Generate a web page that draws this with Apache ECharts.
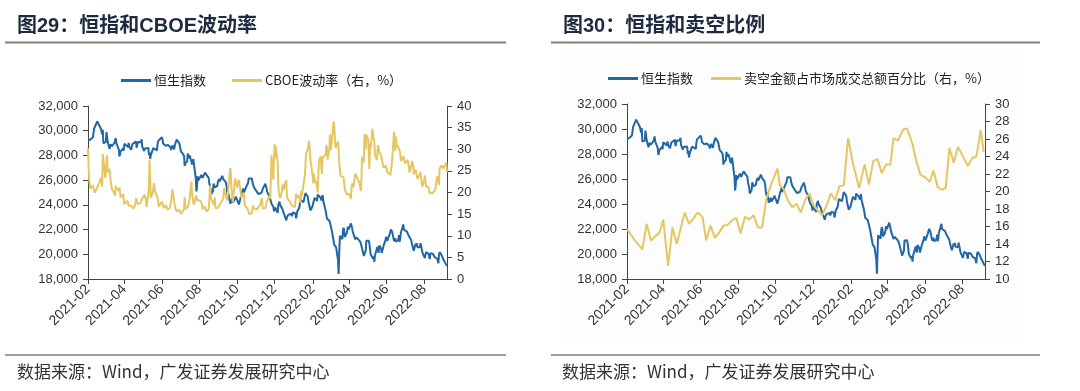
<!DOCTYPE html>
<html><head><meta charset="utf-8">
<script src="https://cdn.jsdelivr.net/npm/echarts@6/dist/echarts.min.js"></script>
<style>html,body{margin:0;padding:0;background:#fff;}#c{width:1080px;height:391px;}</style>
</head><body><div id="c"></div>
<script>
// ---- data ----
const xTickLabels = ['2021-02','2021-04','2021-06','2021-08','2021-10','2021-12','2022-02','2022-04','2022-06','2022-08'];
const xMin = '2021-02-01', xMax = '2022-09-07';
const leftTicks = [18000,20000,22000,24000,26000,28000,30000,32000];
const vixTicks = [0,5,10,15,20,25,30,35,40];
const ssTicks = [10,12,14,16,18,20,22,24,26,28,30];
const names = {hsi:'恒生指数', vix:'CBOE波动率（右，%）', ss:'卖空金额占市场成交总额百分比（右，%）'};
const titles = ['图29：恒指和CBOE波动率','图30：恒指和卖空比例'];
const sourceText = '数据来源：Wind，广发证券发展研究中心';

const hsiData = [
['2021-02-01',29200],['2021-02-03',29307],['2021-02-05',29289],['2021-02-09',29477],['2021-02-11',30173],['2021-02-16',30746],['2021-02-18',30595],['2021-02-19',30644],['2021-02-22',30156],['2021-02-24',29718],['2021-02-25',30074],['2021-02-26',28980],
['2021-03-02',29095],['2021-03-03',29880],['2021-03-05',29098],['2021-03-08',28540],['2021-03-10',28908],['2021-03-12',28739],['2021-03-16',29027],['2021-03-18',29405],['2021-03-19',28990],['2021-03-22',28885],['2021-03-23',28497],['2021-03-24',27918],['2021-03-25',27899],['2021-03-26',28336],['2021-03-30',28577],['2021-03-31',28378],
['2021-04-01',28939],['2021-04-07',28674],['2021-04-08',29009],['2021-04-09',28698],['2021-04-12',28454],['2021-04-14',28900],['2021-04-16',28969],['2021-04-20',29135],['2021-04-21',28622],['2021-04-23',29078],['2021-04-26',28952],['2021-04-28',29071],['2021-04-29',29303],['2021-04-30',28724],
['2021-05-03',28357],['2021-05-04',28557],['2021-05-06',28637],['2021-05-10',28595],['2021-05-11',28014],['2021-05-12',28231],['2021-05-13',27718],['2021-05-14',28027],['2021-05-18',28594],['2021-05-20',28450],['2021-05-24',28412],['2021-05-25',28910],['2021-05-26',29166],['2021-05-28',29124],['2021-06-01',29468],['2021-06-02',29297],['2021-06-03',28966],
['2021-06-07',28787],['2021-06-09',28740],['2021-06-11',28842],['2021-06-15',28638],['2021-06-16',28436],['2021-06-18',28801],['2021-06-21',28490],['2021-06-22',28818],['2021-06-24',28882],['2021-06-25',29288],['2021-06-28',29268],['2021-06-29',28994],['2021-06-30',28828],
['2021-07-02',28310],['2021-07-05',28143],['2021-07-07',27960],['2021-07-08',27154],['2021-07-09',27344],['2021-07-12',27515],['2021-07-13',28172],['2021-07-14',27787],['2021-07-16',28004],['2021-07-19',27489],['2021-07-20',27259],['2021-07-21',27224],['2021-07-22',27705],['2021-07-23',27321],['2021-07-26',26192],['2021-07-27',25086],['2021-07-28',25473],['2021-07-29',26316],['2021-07-30',25961],
['2021-08-02',26235],['2021-08-04',26426],['2021-08-06',26179],['2021-08-10',26605],['2021-08-11',26660],['2021-08-13',26391],['2021-08-16',26181],['2021-08-17',25745],['2021-08-18',25867],['2021-08-19',25317],['2021-08-20',24849],['2021-08-23',25110],['2021-08-24',25727],['2021-08-26',25416],['2021-08-30',25539],['2021-08-31',25879],
['2021-09-02',26091],['2021-09-03',25901],['2021-09-07',26353],['2021-09-09',26068],['2021-09-10',26205],['2021-09-13',25813],['2021-09-14',25503],['2021-09-15',25033],['2021-09-16',24668],['2021-09-17',24920],['2021-09-20',24099],['2021-09-23',24510],['2021-09-24',24192],['2021-09-28',24500],['2021-09-29',24663],['2021-09-30',24576],
['2021-10-04',24036],['2021-10-06',24422],['2021-10-08',24838],['2021-10-11',25325],['2021-10-12',24962],['2021-10-15',25331],['2021-10-18',25410],['2021-10-19',25787],['2021-10-20',26136],['2021-10-21',26017],['2021-10-25',26132],['2021-10-27',25628],['2021-10-29',25377],
['2021-11-01',25154],['2021-11-03',25025],['2021-11-04',25225],['2021-11-05',24871],['2021-11-08',24763],['2021-11-10',24996],['2021-11-12',25328],['2021-11-15',25390],['2021-11-16',25713],['2021-11-17',25650],['2021-11-18',25320],['2021-11-19',25050],['2021-11-23',24652],['2021-11-25',24740],['2021-11-26',24080],['2021-11-29',23852],['2021-11-30',23475],
['2021-12-02',23789],['2021-12-06',23350],['2021-12-07',23983],['2021-12-09',24255],['2021-12-10',23996],['2021-12-13',23955],['2021-12-14',23636],['2021-12-15',23421],['2021-12-17',23193],['2021-12-20',22744],['2021-12-21',22971],['2021-12-23',23193],['2021-12-24',23224],['2021-12-28',23280],['2021-12-29',23086],['2021-12-31',23398],
['2022-01-04',23289],['2022-01-05',22907],['2022-01-07',23493],['2022-01-10',23746],['2022-01-12',24402],['2022-01-14',24383],['2022-01-17',24219],['2022-01-18',24113],['2022-01-20',24952],['2022-01-21',24966],['2022-01-24',24656],['2022-01-25',24244],['2022-01-27',23807],['2022-01-28',23550],['2022-01-31',23802],
['2022-02-04',24573],['2022-02-07',24580],['2022-02-08',24329],['2022-02-09',24830],['2022-02-10',24924],['2022-02-14',24556],['2022-02-15',24356],['2022-02-17',24793],['2022-02-18',24328],['2022-02-21',24170],['2022-02-22',23520],['2022-02-23',23660],['2022-02-24',22902],['2022-02-25',22767],['2022-02-28',22713],
['2022-03-01',22761],['2022-03-02',22344],['2022-03-03',22467],['2022-03-04',21906],['2022-03-07',21057],['2022-03-08',20766],['2022-03-09',20628],['2022-03-10',20890],['2022-03-11',20554],['2022-03-14',19532],['2022-03-15',18415],['2022-03-16',20087],['2022-03-17',21501],['2022-03-18',21412],['2022-03-21',21221],['2022-03-22',21889],['2022-03-23',22154],['2022-03-24',21946],['2022-03-25',21405],['2022-03-28',21684],['2022-03-29',21928],['2022-03-30',22232],['2022-03-31',21997],
['2022-04-01',22040],['2022-04-04',22502],['2022-04-06',22080],['2022-04-07',21808],['2022-04-08',21872],['2022-04-11',21208],['2022-04-12',21319],['2022-04-13',21374],['2022-04-14',21518],['2022-04-19',21027],['2022-04-20',20944],['2022-04-21',20683],['2022-04-22',20638],['2022-04-25',19870],['2022-04-26',19934],['2022-04-27',19947],['2022-04-28',20277],['2022-04-29',21089],
['2022-05-03',21101],['2022-05-04',20870],['2022-05-05',20794],['2022-05-06',20002],['2022-05-10',19634],['2022-05-11',19824],['2022-05-12',19380],['2022-05-13',19899],['2022-05-16',19950],['2022-05-17',20602],['2022-05-18',20644],['2022-05-19',20120],['2022-05-20',20717],['2022-05-23',20471],['2022-05-24',20112],['2022-05-25',20171],['2022-05-26',20116],['2022-05-27',20697],['2022-05-30',21124],['2022-05-31',21415],
['2022-06-01',21294],['2022-06-02',21082],['2022-06-06',21653],['2022-06-07',21532],['2022-06-08',22014],['2022-06-09',21869],['2022-06-10',21806],['2022-06-13',21068],['2022-06-14',21067],['2022-06-15',21308],['2022-06-16',21018],['2022-06-17',21075],['2022-06-20',21163],['2022-06-21',21559],['2022-06-22',21008],['2022-06-23',21274],['2022-06-24',21719],['2022-06-27',22230],['2022-06-28',22419],['2022-06-29',21997],['2022-06-30',21860],
['2022-07-04',21830],['2022-07-05',21854],['2022-07-06',21587],['2022-07-07',21644],['2022-07-08',21725],['2022-07-11',21125],['2022-07-12',20845],['2022-07-13',20797],['2022-07-14',20751],['2022-07-15',20297],['2022-07-18',20847],['2022-07-19',20661],['2022-07-20',20890],['2022-07-21',20575],['2022-07-22',20610],['2022-07-25',20563],['2022-07-26',20906],['2022-07-27',20671],['2022-07-28',20674],['2022-07-29',20157],
['2022-08-01',20166],['2022-08-02',19690],['2022-08-03',19768],['2022-08-04',20174],['2022-08-05',20202],['2022-08-08',20046],['2022-08-09',20003],['2022-08-10',19610],['2022-08-11',20082],['2022-08-12',20176],['2022-08-15',20041],['2022-08-16',20040],['2022-08-17',19922],['2022-08-18',19764],['2022-08-19',19773],['2022-08-22',19657],['2022-08-23',19504],['2022-08-24',19268],['2022-08-25',19969],['2022-08-26',20171],['2022-08-29',19950],['2022-08-30',20079],['2022-08-31',19954],
['2022-09-01',19597],['2022-09-02',19452],['2022-09-05',19225],['2022-09-06',19203],['2022-09-07',19044]
];

const vixData = [
['2021-02-01',30.24],['2021-02-02',25.56],['2021-02-03',22.91],['2021-02-04',21.77],['2021-02-05',20.87],['2021-02-09',21.63],['2021-02-11',21.25],['2021-02-12',19.97],['2021-02-17',21.5],['2021-02-19',22.05],['2021-02-22',23.45],['2021-02-24',21.34],['2021-02-25',28.89],['2021-02-26',27.95],
['2021-03-01',23.35],['2021-03-03',26.67],['2021-03-04',28.57],['2021-03-05',24.66],['2021-03-08',25.47],['2021-03-09',24.03],['2021-03-10',22.56],['2021-03-12',20.69],['2021-03-15',20.03],['2021-03-17',19.23],['2021-03-18',21.58],['2021-03-19',20.95],['2021-03-23',20.3],['2021-03-24',21.2],['2021-03-26',18.86],['2021-03-30',19.61],['2021-03-31',19.4],
['2021-04-01',17.33],['2021-04-06',18.12],['2021-04-08',16.95],['2021-04-12',16.91],['2021-04-14',16.99],['2021-04-16',16.25],['2021-04-19',17.3],['2021-04-20',18.68],['2021-04-22',18.71],['2021-04-23',17.33],['2021-04-27',17.56],['2021-04-30',18.61],
['2021-05-04',19.48],['2021-05-06',18.39],['2021-05-07',16.69],['2021-05-10',19.66],['2021-05-11',21.84],['2021-05-12',27.59],['2021-05-13',23.13],['2021-05-14',18.81],['2021-05-17',19.72],['2021-05-19',22.18],['2021-05-21',20.15],['2021-05-25',18.84],['2021-05-27',16.74],
['2021-06-01',17.9],['2021-06-03',18.04],['2021-06-04',16.42],['2021-06-08',17.07],['2021-06-10',16.1],['2021-06-14',16.39],['2021-06-16',18.15],['2021-06-18',20.7],['2021-06-21',17.89],['2021-06-23',16.32],['2021-06-25',15.62],['2021-06-29',16.02],['2021-07-02',15.07],
['2021-07-07',16.2],['2021-07-08',19.0],['2021-07-09',16.18],['2021-07-13',16.67],['2021-07-16',18.45],['2021-07-19',22.5],['2021-07-20',19.73],['2021-07-22',17.69],['2021-07-23',17.2],['2021-07-27',19.36],['2021-07-28',18.31],['2021-07-30',18.24],
['2021-08-03',18.04],['2021-08-05',17.28],['2021-08-06',16.15],['2021-08-10',16.79],['2021-08-12',15.59],['2021-08-16',16.12],['2021-08-17',17.91],['2021-08-18',21.57],['2021-08-19',21.67],['2021-08-20',18.56],['2021-08-24',17.22],['2021-08-26',18.84],['2021-08-27',16.39],['2021-08-31',16.48],
['2021-09-03',16.41],['2021-09-07',18.14],['2021-09-09',18.8],['2021-09-10',20.95],['2021-09-13',19.37],['2021-09-15',18.18],['2021-09-17',20.81],['2021-09-20',25.71],['2021-09-21',24.36],['2021-09-22',20.87],['2021-09-24',17.75],['2021-09-28',23.25],['2021-09-30',23.14],
['2021-10-01',21.15],['2021-10-04',22.96],['2021-10-06',21.0],['2021-10-08',18.77],['2021-10-12',20.0],['2021-10-14',16.86],['2021-10-18',16.3],['2021-10-21',15.01],['2021-10-25',15.24],['2021-10-27',16.98],['2021-10-29',16.26],
['2021-11-02',16.03],['2021-11-04',16.48],['2021-11-08',17.22],['2021-11-10',18.73],['2021-11-12',16.29],['2021-11-16',16.37],['2021-11-18',17.59],['2021-11-22',19.17],['2021-11-24',18.58],['2021-11-26',28.62],['2021-11-29',22.96],['2021-11-30',27.19],
['2021-12-01',31.12],['2021-12-02',27.95],['2021-12-03',30.67],['2021-12-06',27.18],['2021-12-07',21.89],['2021-12-08',19.9],['2021-12-10',18.69],['2021-12-13',20.31],['2021-12-14',21.89],['2021-12-16',20.57],['2021-12-17',21.57],['2021-12-20',22.87],['2021-12-21',19.29],['2021-12-22',18.63],['2021-12-27',17.68],['2021-12-29',16.95],['2021-12-31',17.22],
['2022-01-03',16.6],['2022-01-05',19.73],['2022-01-07',18.76],['2022-01-10',19.4],['2022-01-12',17.62],['2022-01-13',20.31],['2022-01-14',19.19],['2022-01-18',22.79],['2022-01-19',23.85],['2022-01-20',25.59],['2022-01-21',28.85],['2022-01-24',29.9],['2022-01-25',31.16],['2022-01-26',31.96],['2022-01-27',30.49],['2022-01-28',27.66],['2022-01-31',24.83],
['2022-02-02',22.09],['2022-02-03',24.35],['2022-02-04',23.22],['2022-02-08',21.44],['2022-02-09',19.96],['2022-02-10',23.91],['2022-02-11',27.36],['2022-02-14',28.33],['2022-02-15',25.7],['2022-02-16',24.29],['2022-02-17',28.11],['2022-02-18',27.75],['2022-02-22',28.81],['2022-02-23',31.02],['2022-02-24',30.32],['2022-02-25',27.59],['2022-02-28',30.15],
['2022-03-01',33.32],['2022-03-02',29.74],['2022-03-03',30.48],['2022-03-04',31.98],['2022-03-07',36.45],['2022-03-08',35.13],['2022-03-09',32.45],['2022-03-10',30.23],['2022-03-11',30.75],['2022-03-14',31.77],['2022-03-15',29.83],['2022-03-16',26.67],['2022-03-17',25.67],['2022-03-18',23.87],['2022-03-21',23.53],['2022-03-23',23.57],['2022-03-25',20.81],['2022-03-28',19.63],['2022-03-30',19.33],
['2022-04-01',19.63],['2022-04-04',18.57],['2022-04-05',21.03],['2022-04-06',22.1],['2022-04-08',21.16],['2022-04-11',24.37],['2022-04-12',24.26],['2022-04-14',24.23],['2022-04-18',22.17],['2022-04-20',20.32],['2022-04-21',22.68],['2022-04-22',28.21],['2022-04-25',27.02],['2022-04-26',33.52],['2022-04-27',31.6],['2022-04-28',29.99],['2022-04-29',33.4],
['2022-05-02',32.34],['2022-05-04',25.42],['2022-05-05',31.2],['2022-05-06',30.19],['2022-05-09',34.75],['2022-05-10',32.99],['2022-05-11',32.56],['2022-05-12',31.77],['2022-05-13',28.87],['2022-05-16',27.47],['2022-05-18',30.96],['2022-05-20',29.43],['2022-05-23',28.48],['2022-05-25',28.37],['2022-05-27',25.72],['2022-05-31',26.19],
['2022-06-02',24.72],['2022-06-03',25.07],['2022-06-07',24.02],['2022-06-09',26.09],['2022-06-10',27.75],['2022-06-13',34.02],['2022-06-14',32.69],['2022-06-15',29.62],['2022-06-16',32.95],['2022-06-17',31.13],['2022-06-21',30.19],['2022-06-23',29.05],['2022-06-24',27.23],['2022-06-28',28.36],['2022-06-30',28.71],
['2022-07-01',26.7],['2022-07-05',27.54],['2022-07-07',26.08],['2022-07-08',24.64],['2022-07-11',26.17],['2022-07-12',27.29],['2022-07-14',26.4],['2022-07-15',24.23],['2022-07-18',25.3],['2022-07-20',23.88],['2022-07-21',23.11],['2022-07-22',23.03],['2022-07-26',24.69],['2022-07-27',23.24],['2022-07-29',21.33],
['2022-08-01',22.84],['2022-08-02',23.93],['2022-08-04',21.44],['2022-08-05',21.15],['2022-08-08',21.29],['2022-08-10',19.74],['2022-08-12',19.53],['2022-08-15',19.95],['2022-08-17',19.9],['2022-08-19',20.6],['2022-08-22',23.8],['2022-08-24',22.82],['2022-08-25',21.78],['2022-08-26',25.56],['2022-08-29',26.21],['2022-08-31',25.87],
['2022-09-01',25.56],['2022-09-02',25.47],['2022-09-06',26.91],['2022-09-07',24.64]
];

const shortData = [
['2021-02-01',15.7],['2021-02-08',15.0],['2021-02-15',14.3],['2021-02-26',13.4],['2021-03-05',16.3],['2021-03-12',14.4],['2021-03-19',14.9],['2021-03-26',15.3],['2021-04-01',16.8],['2021-04-09',11.5],['2021-04-16',15.9],['2021-04-23',14.0],
['2021-05-06',17.6],['2021-05-13',16.3],['2021-05-20',16.9],['2021-05-27',17.6],['2021-06-04',17.1],['2021-06-10',14.4],['2021-06-17',16.1],['2021-06-24',14.7],['2021-07-01',15.3],['2021-07-08',16.1],['2021-07-15',16.2],['2021-07-22',16.7],['2021-07-29',17.0],
['2021-08-05',15.2],['2021-08-12',17.1],['2021-08-19',16.8],['2021-08-26',17.3],['2021-09-02',15.9],['2021-09-09',15.9],['2021-09-16',19.2],['2021-09-23',20.7],['2021-10-04',22.6],['2021-10-08',20.7],['2021-10-14',20.3],['2021-10-21',19.0],['2021-10-28',18.2],
['2021-11-04',18.6],['2021-11-11',17.6],['2021-11-18',19.0],['2021-11-25',19.8],['2021-12-02',18.4],['2021-12-09',17.8],['2021-12-16',17.3],['2021-12-23',18.4],['2021-12-30',19.8],['2022-01-06',19.0],['2022-01-13',20.6],['2022-01-20',20.7],['2022-01-27',26.1],
['2022-02-04',23.2],['2022-02-14',20.4],['2022-02-23',23.1],['2022-03-02',20.8],['2022-03-09',23.5],['2022-03-16',23.7],['2022-03-23',22.1],['2022-03-30',23.1],['2022-04-06',23.1],['2022-04-11',26.1],['2022-04-18',25.8],['2022-04-27',27.1],['2022-05-03',27.2],
['2022-05-12',25.4],['2022-05-18',23.5],['2022-05-25',21.9],['2022-06-02',21.6],['2022-06-09',21.1],['2022-06-15',22.4],['2022-06-22',20.5],['2022-06-29',20.2],['2022-07-05',20.4],['2022-07-11',25.0],['2022-07-18',23.3],['2022-07-25',25.1],
['2022-08-03',23.9],['2022-08-10',22.9],['2022-08-17',23.8],['2022-08-24',24.0],['2022-08-31',27.0],['2022-09-05',24.5]
];

// ---- chart ----
const BLUE = '#1F67A5', GOLD = '#E6C660';
const ts = s => { const p = s.split('-').map(Number); return new Date(p[0], p[1] - 1, p[2] || 1).getTime(); };
const toXY = arr => arr.map(d => [ts(d[0]), d[1]]);
const tickVals = xTickLabels.map(ts);
const fmtX = v => { const d = new Date(v); return d.getFullYear() + '-' + String(d.getMonth() + 1).padStart(2, '0'); };
const fmtThousand = v => String(v).replace(/\B(?=(\d{3})+(?!\d))/g, ',');
const axisFont = { fontFamily: 'Liberation Sans, Arial, sans-serif', fontSize: 13, color: '#333' };
const axLine = { show: true, lineStyle: { color: '#444', width: 1 } };

function xAxisCfg(gi) {
  return {
    type: 'value', gridIndex: gi, min: ts(xMin), max: ts(xMax),
    axisLine: axLine,
    axisTick: { show: true, inside: false, length: 5, customValues: tickVals, lineStyle: { color: '#444' } },
    axisLabel: Object.assign({}, axisFont, { fontSize: 14, customValues: tickVals, rotate: 45, margin: 8, formatter: fmtX, hideOverlap: false }),
    splitLine: { show: false }
  };
}
function yAxisCfg(gi, ticks, pos, fmt, margin) {
  return {
    type: 'value', gridIndex: gi, position: pos,
    min: ticks[0], max: ticks[ticks.length - 1], interval: ticks[1] - ticks[0],
    axisLine: axLine,
    axisTick: { show: true, length: 5, lineStyle: { color: '#444' } },
    axisLabel: Object.assign({ formatter: fmt, margin: margin }, axisFont),
    splitLine: { show: false }
  };
}
const lineS = (name, data, xi, yi, color) => ({
  name, type: 'line', xAxisIndex: xi, yAxisIndex: yi, data: toXY(data), showSymbol: false,
  lineStyle: { color, width: 2 }, itemStyle: { color }, animation: false
});

const legendText = { fontFamily: 'Noto Sans CJK SC, sans-serif', fontSize: 13, color: '#222', padding: [0, 0, 0, -2] };
const chart = echarts.init(document.getElementById('c'));
chart.setOption({
  backgroundColor: '#fff',
  animation: false,
  grid: [
    { left: 88, right: 633, top: 106, bottom: 112, containLabel: false },
    { left: 627, right: 95, top: 104, bottom: 112, containLabel: false }
  ],
  legend: [
    { left: 116, top: 69, icon: 'rect', itemWidth: 30, itemHeight: 3, itemGap: 26, textStyle: legendText, data: [names.hsi, names.vix], selectedMode: false },
    { left: 603, top: 67, icon: 'rect', itemWidth: 30, itemHeight: 3, itemGap: 18, textStyle: legendText, data: [names.hsi, names.ss], selectedMode: false }
  ],
  xAxis: [xAxisCfg(0), xAxisCfg(1)],
  yAxis: [
    yAxisCfg(0, leftTicks, 'left', fmtThousand, 10),
    yAxisCfg(0, vixTicks, 'right', v => String(v), 10),
    yAxisCfg(1, leftTicks, 'left', fmtThousand, 10),
    yAxisCfg(1, ssTicks, 'right', v => String(v), 10)
  ],
  series: [
    lineS(names.hsi, hsiData, 0, 0, BLUE),
    lineS(names.vix, vixData, 0, 1, GOLD),
    lineS(names.hsi, hsiData, 1, 2, BLUE),
    lineS(names.ss, shortData, 1, 3, GOLD)
  ],
  graphic: [
    { type: 'rect', z: -10, silent: true, shape: { x: 563, y: 50, width: 455, height: 292 }, style: { fill: '#fdfdfd' } },
    { type: 'text', left: 17, top: 16, style: { text: titles[0], font: 'bold 20px "Liberation Sans", "Noto Sans CJK SC", sans-serif', fill: '#1d2a3f' } },
    { type: 'text', left: 563, top: 16, style: { text: titles[1], font: 'bold 20px "Liberation Sans", "Noto Sans CJK SC", sans-serif', fill: '#1d2a3f' } },
    { type: 'line', shape: { x1: 5, y1: 42.5, x2: 506, y2: 42.5 }, style: { stroke: '#7f7f7f', lineWidth: 2 } },
    { type: 'line', shape: { x1: 551, y1: 42.5, x2: 1040, y2: 42.5 }, style: { stroke: '#7f7f7f', lineWidth: 2 } },
    { type: 'line', shape: { x1: 5, y1: 355, x2: 506, y2: 355 }, style: { stroke: '#7f7f7f', lineWidth: 1.5 } },
    { type: 'line', shape: { x1: 551, y1: 355, x2: 1040, y2: 355 }, style: { stroke: '#7f7f7f', lineWidth: 1.5 } },
    { type: 'text', left: 17, top: 363, style: { text: sourceText, font: '17px "Noto Sans CJK SC", "Liberation Sans", sans-serif', fill: '#333' } },
    { type: 'text', left: 562, top: 363, style: { text: sourceText, font: '17px "Noto Sans CJK SC", "Liberation Sans", sans-serif', fill: '#333' } }
  ]
});
</script>
</body></html>
